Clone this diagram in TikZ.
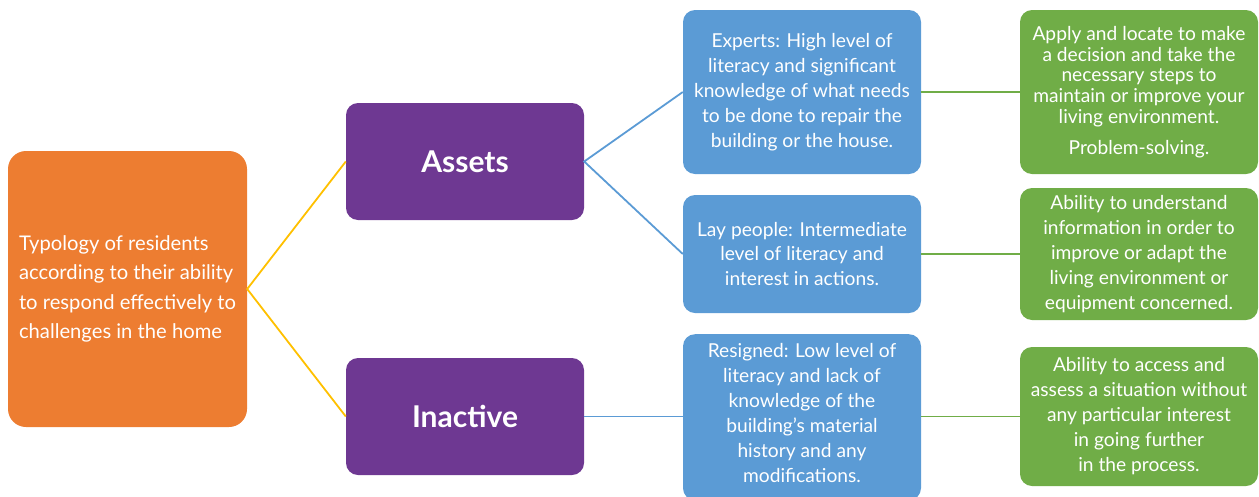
\documentclass[tikz,border=0pt]{standalone}
\usepackage{fontspec}
\setmainfont{Lato}
\definecolor{orng}{HTML}{ED7D31}
\definecolor{purp}{HTML}{6E3892}
\definecolor{blu}{HTML}{5B9BD5}
\definecolor{grn}{HTML}{70AD47}
\definecolor{ylw}{HTML}{FFC000}
\tikzset{
  box/.style={rectangle, rounded corners=12pt, text=white, inner sep=3pt, align=center,
    minimum width=238pt, font=\fontsize{19.2}{25}\selectfont},
  orangebox/.style={box, fill=orng, rounded corners=18pt, minimum width=239pt, minimum height=276pt,
    align=left, font=\fontsize{20.2}{29.3}\selectfont},
  purplebox/.style={box, fill=purp, minimum height=117pt, font=\bfseries\fontsize{30}{36}\selectfont},
  bluebox/.style={box, fill=blu},
  greenbox/.style={box, fill=grn},
  link/.style={line width=1.8pt},
}
\begin{document}
\begin{tikzpicture}[x=1pt,y=-1pt]
\useasboundingbox (0,0) rectangle (1259,496);
\node[orangebox] (root) at (127.5,289) {Typology of residents\\according to their ability\\to respond effectively to\\challenges in the home};
\node[purplebox] (assets) at (465,161.5) {Assets};
\node[purplebox] (inactive) at (465,416.5) {Inactive};
\node[bluebox, minimum height=164pt] (experts) at (802,92) {Experts: High level of\\literacy and significant\\knowledge of what needs\\to be done to repair the\\building or the house.};
\node[bluebox, minimum height=118pt] (lay) at (802,254) {Lay people: Intermediate\\level of literacy and\\interest in actions.};
\node[bluebox, minimum height=166pt, anchor=north] (resigned) at (802,334) {};
\node[text=white, align=center, font=\fontsize{19.2}{25}\selectfont, anchor=north] (resignedtext) at (802,340) {Resigned: Low level of\\literacy and lack of\\knowledge of the\\building’s material\\history and any\\modifications.};
\node[greenbox, minimum height=164pt, font=\fontsize{19.2}{20.8}\selectfont] (g1) at (1139,92) {Apply and locate to make\\a decision and take the\\necessary steps to\\maintain or improve your\\living environment.\\[10pt]Problem-solving.};
\node[greenbox, minimum height=132pt] (g2) at (1139,254) {Ability to understand\\information in order to\\improve or adapt the\\living environment or\\equipment concerned.};
\node[greenbox, minimum height=139pt] (g3) at (1139,416.5) {Ability to access and\\assess a situation without\\any particular interest\\in going further\\in the process.};
\draw[link, ylw] (assets.west) -- (root.east) -- (inactive.west);
\draw[link, blu] (experts.west) -- (assets.east) -- (lay.west);
\draw[link, blu] (inactive.east) -- (resigned.west |- inactive.east);
\draw[link, grn] (experts.east) -- (g1.west);
\draw[link, grn] (lay.east) -- (g2.west);
\draw[link, grn] (resigned.east |- g3.west) -- (g3.west);
\end{tikzpicture}
\end{document}
